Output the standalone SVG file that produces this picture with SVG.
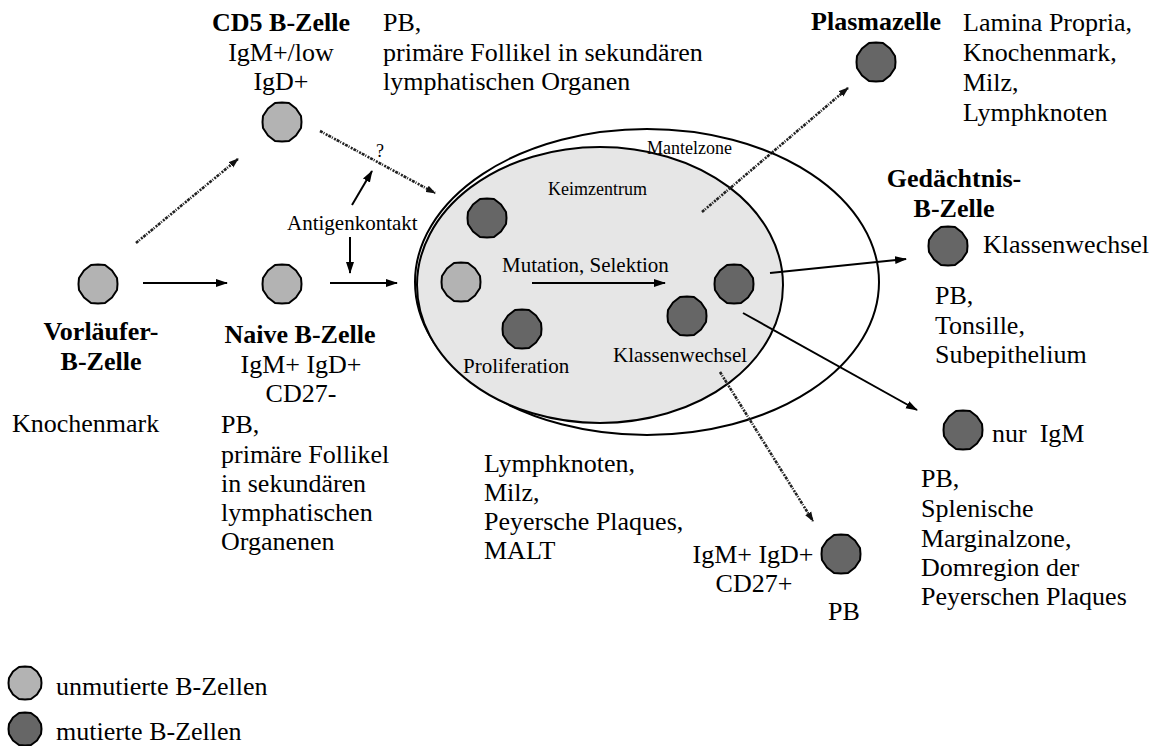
<svg xmlns="http://www.w3.org/2000/svg" width="1158" height="746" viewBox="0 0 1158 746">
<style>
text{font-family:"Liberation Serif","Times New Roman",serif;fill:#000}
.t{font-size:26px}
.b{font-size:26px;font-weight:bold}
.s{font-size:21px}
.xs{font-size:18px}
.mid{text-anchor:middle}
.end{text-anchor:end}
.light{fill:#b3b3b3;stroke:#000;stroke-width:2;stroke-linejoin:round}
.dark{fill:#666666;stroke:#000;stroke-width:2;stroke-linejoin:round}
.arr{stroke:#000;stroke-width:2;fill:none;marker-end:url(#ah)}
.gr{stroke:#222;stroke-width:2.6;fill:none;stroke-dasharray:3 1 1 1.5 2 1;marker-end:url(#ah2)}
</style>
<defs>
<marker id="ah" markerUnits="userSpaceOnUse" markerWidth="12" markerHeight="10" refX="11" refY="5" orient="auto"><path d="M0,1 L12,5 L0,9 Z" fill="#000"/></marker>
<marker id="ah2" markerUnits="userSpaceOnUse" markerWidth="10" markerHeight="8" refX="9" refY="4" orient="auto"><path d="M0,0.5 L10,4 L0,7.5 Z" fill="#111"/></marker>
<path id="cell" d="M-7,-19 L0,-19.5 L7,-19 L14,-13.5 L19,-6 L19.5,0 L19,6 L14,13.5 L7,19 L0,19.5 L-7,19 L-14,13.5 L-19,6 L-19.5,0 L-19,-6 L-14,-13.5 Z"/>
<path id="cells" d="M-6,-16 L0,-16.5 L6,-16 L12,-11.5 L16,-5 L16.5,0 L16,5 L12,11.5 L6,16 L0,16.5 L-6,16 L-12,11.5 L-16,5 L-16.5,0 L-16,-5 L-12,-11.5 Z"/>
</defs>
<rect width="1158" height="746" fill="#fff"/>

<g id="mantelzone">
<ellipse cx="647" cy="282" rx="232" ry="153" fill="none" stroke="#000" stroke-width="2"/>
</g>
<g id="keimzentrum">
<ellipse cx="600" cy="285" rx="183" ry="138" fill="#e6e6e6" stroke="#000" stroke-width="2"/>
<text class="xs" x="647" y="154">Mantelzone</text>
<text class="xs" x="548" y="195">Keimzentrum</text>
<use href="#cell" class="dark" x="487" y="218"/>
<use href="#cell" class="light" x="461" y="282"/>
<use href="#cell" class="dark" x="522" y="329"/>
<use href="#cell" class="dark" x="687" y="316"/>
<use href="#cell" class="dark" x="734" y="284"/>
<text class="s" x="502" y="272">Mutation, Selektion</text>
<text class="s" x="463" y="373">Proliferation</text>
<text class="s" x="613" y="362">Klassenwechsel</text>
</g>

<g id="connectors">
<line class="arr" x1="143" y1="283" x2="227" y2="283"/>
<line class="arr" x1="330" y1="283" x2="397" y2="283"/>
<line class="arr" x1="350" y1="237" x2="350" y2="273"/>
<line class="arr" x1="352" y1="205" x2="372" y2="171"/>
<line class="arr" x1="532" y1="283" x2="665" y2="283"/>
<line class="arr" x1="770" y1="273" x2="906" y2="259"/>
<line class="arr" x1="743" y1="313" x2="917" y2="410"/>
<line class="gr" x1="136" y1="243" x2="238" y2="159"/>
<line class="gr" x1="320" y1="131" x2="435" y2="193"/>
<line class="gr" x1="702" y1="212" x2="848" y2="88"/>
<line class="gr" x1="720" y1="372" x2="813" y2="521"/>
</g>

<g id="antigenkontakt">
<text class="s" x="287" y="230">Antigenkontakt</text>
<text class="xs" x="376" y="157">?</text>
</g>

<g id="vorlaeufer">
<use href="#cell" class="light" x="98" y="284"/>
<text class="b mid" x="101" y="340">Vorläufer-</text>
<text class="b mid" x="101" y="370">B-Zelle</text>
<text class="t" x="12" y="432">Knochenmark</text>
</g>

<g id="naive">
<use href="#cell" class="light" x="282" y="284"/>
<text class="b mid" x="300" y="343">Naive B-Zelle</text>
<text class="t mid" x="301" y="373">IgM+ IgD+</text>
<text class="t mid" x="301" y="402">CD27-</text>
<text class="t" x="221" y="433">PB,</text>
<text class="t" x="221" y="463">primäre Follikel</text>
<text class="t" x="221" y="492">in sekundären</text>
<text class="t" x="221" y="521">lymphatischen</text>
<text class="t" x="221" y="550">Organenen</text>
</g>

<g id="cd5">
<use href="#cell" class="light" x="282" y="122"/>
<text class="b mid" x="281" y="31">CD5 B-Zelle</text>
<text class="t mid" x="281" y="61">IgM+/low</text>
<text class="t mid" x="281" y="90">IgD+</text>
<text class="t" x="383" y="31">PB,</text>
<text class="t" x="383" y="61">primäre Follikel in sekundären</text>
<text class="t" x="383" y="90">lymphatischen Organen</text>
</g>

<g id="plasmazelle">
<use href="#cell" class="dark" x="876" y="62"/>
<text class="b end" x="941" y="30">Plasmazelle</text>
<text class="t" x="963" y="31">Lamina Propria,</text>
<text class="t" x="963" y="61">Knochenmark,</text>
<text class="t" x="963" y="91">Milz,</text>
<text class="t" x="963" y="121">Lymphknoten</text>
</g>

<g id="gedaechtnis">
<use href="#cell" class="dark" x="948" y="246"/>
<text class="b mid" x="954" y="187">Gedächtnis-</text>
<text class="b mid" x="954" y="217">B-Zelle</text>
<text class="t" x="983" y="253">Klassenwechsel</text>
<text class="t" x="935" y="304">PB,</text>
<text class="t" x="935" y="334">Tonsille,</text>
<text class="t" x="935" y="363">Subepithelium</text>
</g>

<g id="nurigm">
<use href="#cell" class="dark" x="963" y="430"/>
<text class="t" x="992" y="442" xml:space="preserve">nur  IgM</text>
<text class="t" x="921" y="487">PB,</text>
<text class="t" x="921" y="517">Splenische</text>
<text class="t" x="921" y="547">Marginalzone,</text>
<text class="t" x="921" y="576">Domregion der</text>
<text class="t" x="921" y="605">Peyerschen Plaques</text>
</g>

<g id="igmigd">
<use href="#cell" class="dark" x="841" y="554"/>
<text class="t mid" x="753" y="563">IgM+ IgD+</text>
<text class="t mid" x="754" y="592">CD27+</text>
<text class="t mid" x="844" y="620">PB</text>
</g>

<g id="orte">
<text class="t" x="484" y="472">Lymphknoten,</text>
<text class="t" x="484" y="501">Milz,</text>
<text class="t" x="484" y="530">Peyersche Plaques,</text>
<text class="t" x="484" y="559">MALT</text>
</g>

<g id="legende">
<use href="#cells" class="light" x="25" y="683"/>
<text class="t" x="56" y="695">unmutierte B-Zellen</text>
<use href="#cells" class="dark" x="25" y="729"/>
<text class="t" x="56" y="740">mutierte B-Zellen</text>
</g>
</svg>
